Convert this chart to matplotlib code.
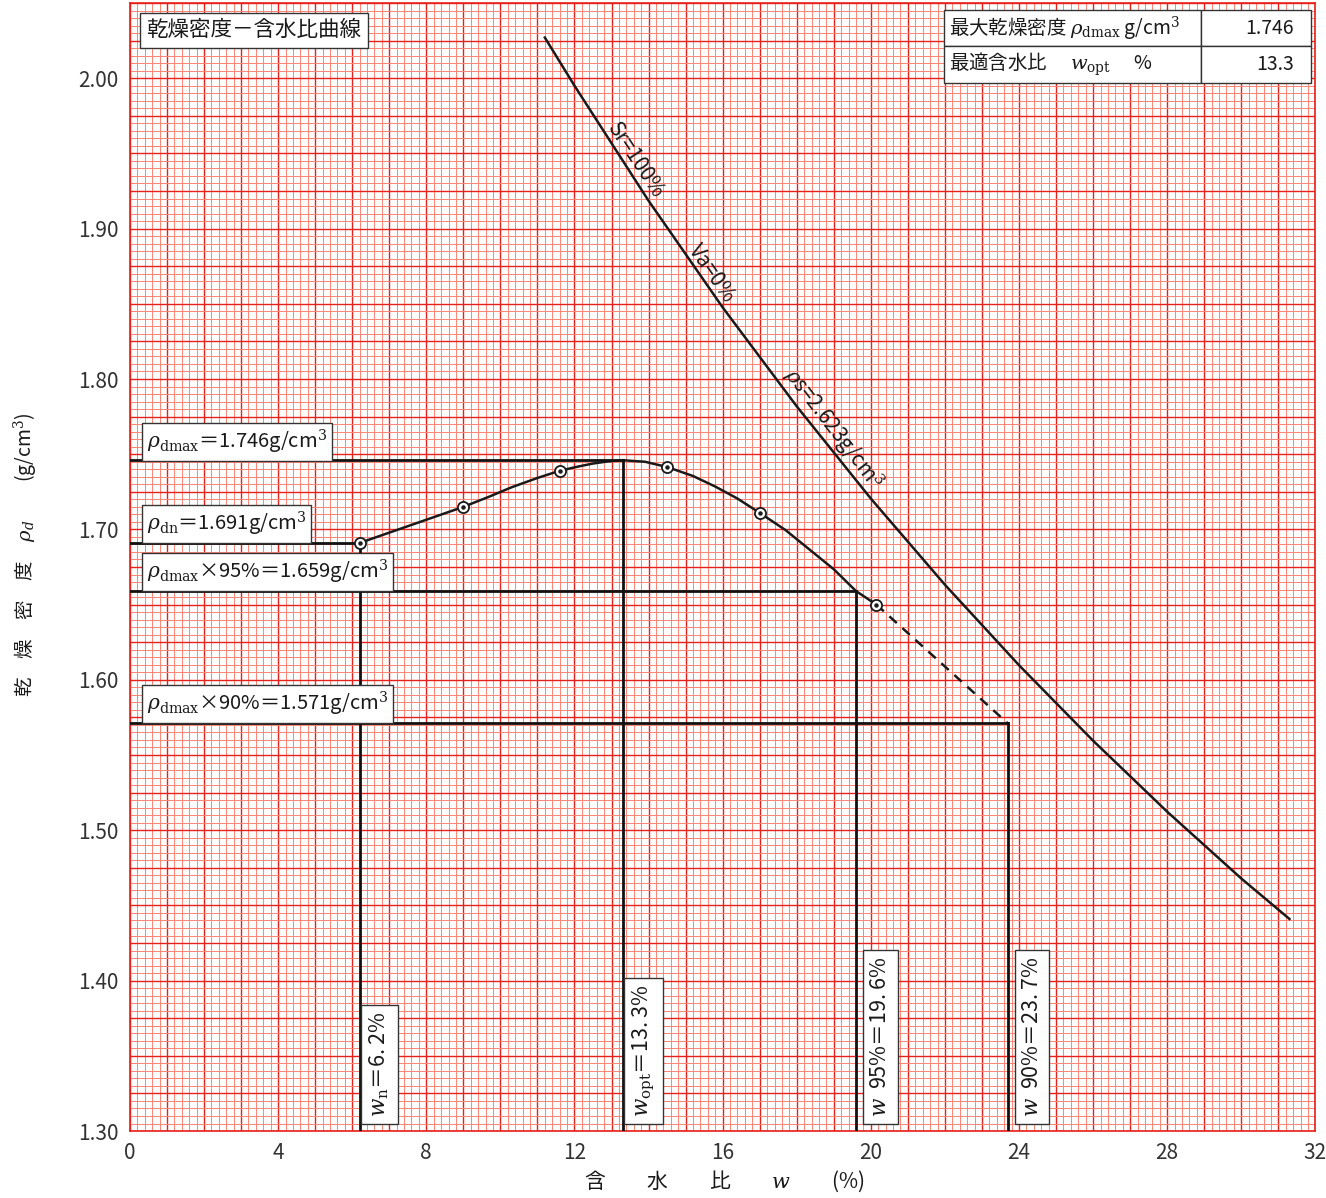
import matplotlib
matplotlib.use('Agg')
import matplotlib.pyplot as plt
import numpy as np

plt.rcParams['font.family'] = ['Noto Sans CJK JP', 'DejaVu Sans']
plt.rcParams['mathtext.fontset'] = 'dejavuserif'

# 試験結果 (含水比 w %, 乾燥密度 g/cm3)
w_test = [6.2, 9.0, 11.6, 14.5, 17.0, 20.15]
rho_test = [1.691, 1.715, 1.739, 1.7415, 1.711, 1.650]

# 曲線
w_curve = [6.2, 9.0, 9.7, 10.3, 11.0, 11.6, 12.1, 12.5, 12.9, 13.3, 13.9, 14.5,
           15.2, 15.8, 16.4, 17.0, 17.7, 18.3, 19.0, 19.6, 20.15]
rho_curve = [1.691, 1.715, 1.7218, 1.728, 1.7342, 1.739, 1.7418, 1.7438, 1.7452, 1.746, 1.745, 1.7415,
             1.7355, 1.7285, 1.7205, 1.711, 1.6995, 1.6875, 1.6735, 1.659, 1.650]
w_dash = [20.15, 23.7]
rho_dash = [1.650, 1.571]

# ゼロ空気間隙曲線 (ρs = 2.623)
w_zav = [11.2, 12, 14, 16, 18, 20, 22, 24, 26, 28, 30, 31.3]
rho_zav = [2.027, 1.995, 1.9185, 1.8476, 1.7818, 1.7205, 1.6632, 1.6097, 1.5595, 1.5123, 1.4679, 1.441]

rho_dmax, w_opt = 1.746, 13.3
rho_dn, w_n = 1.691, 6.2
rho_95, w_95 = 1.659, 19.6
rho_90, w_90 = 1.571, 23.7

x_ticks = [0, 4, 8, 12, 16, 20, 24, 28, 32]
y_ticks = [1.30, 1.40, 1.50, 1.60, 1.70, 1.80, 1.90, 2.00]

fig = plt.figure(figsize=(13.26, 11.98), dpi=100)
ax = fig.add_axes([0.098, 0.0559, 0.894, 0.9416])
ax.set_xlim(0, 32)
ax.set_ylim(1.30, 2.05)

# 方眼紙
for i, x in enumerate(np.arange(0, 32.001, 0.2)):
    if i % 5 == 0:
        ax.axvline(x, color='#e8201a', lw=1.0, zorder=0)
    else:
        ax.axvline(x, color='#ff8474', lw=0.7, zorder=0)
for i, y in enumerate(np.arange(1.30, 2.0501, 0.005)):
    if i % 5 == 0:
        ax.axhline(y, color='#e8201a', lw=1.0, zorder=0)
    else:
        ax.axhline(y, color='#ff8474', lw=0.7, zorder=0)

for s in ax.spines.values():
    s.set_color('#e8201a')
    s.set_linewidth(1.2)

ax.set_xticks(x_ticks)
ax.set_xticklabels([str(v) for v in x_ticks], fontsize=15, color='#333333')
ax.set_yticks(y_ticks)
ax.set_yticklabels([f'{v:.2f}' for v in y_ticks], fontsize=15, color='#333333')
ax.tick_params(length=0, pad=8)

# ゼロ空気間隙曲線
ax.plot(w_zav, rho_zav, color='#1a1a1a', lw=1.8, zorder=3)
ax.text(13.4, 1.941, 'Sr=100%', rotation=-56.5, rotation_mode='anchor',
        ha='center', va='bottom', fontsize=15, color='#1a1a1a', zorder=4)
ax.text(15.46, 1.866, 'Va=0%', rotation=-55, rotation_mode='anchor',
        ha='center', va='bottom', fontsize=15, color='#1a1a1a', zorder=4)
ax.text(18.67, 1.761, r'$\rho$s=2.623g/cm$^3$', rotation=-52.5, rotation_mode='anchor',
        ha='center', va='bottom', fontsize=15, color='#1a1a1a', zorder=4)

# 締固め曲線
ax.plot(w_curve, rho_curve, color='#1a1a1a', lw=1.8, zorder=3)
ax.plot(w_dash, rho_dash, color='#1a1a1a', lw=1.8, ls=(0, (4, 3)), zorder=3)
ax.plot(w_test, rho_test, 'o', ms=8, mfc='white', mec='#1a1a1a', mew=1.3, zorder=5)
ax.plot(w_test, rho_test, 'o', ms=2.2, color='#1a1a1a', zorder=6)

# 補助線
for w_v, r_v in [(w_opt, rho_dmax), (w_n, rho_dn), (w_95, rho_95), (w_90, rho_90)]:
    ax.plot([0, w_v], [r_v, r_v], color='#111111', lw=2, zorder=3)
    ax.plot([w_v, w_v], [r_v, 1.30], color='#111111', lw=2, zorder=3)

box = dict(boxstyle='square,pad=0.25', fc='white', ec='#333333', lw=1)
h_labels = [
    (1.758, r'$\rho_{\rm dmax}$＝1.746g/cm$^3$'),
    (1.7036, r'$\rho_{\rm dn}$＝1.691g/cm$^3$'),
    (1.6717, r'$\rho_{\rm dmax}$×95%＝1.659g/cm$^3$'),
    (1.584, r'$\rho_{\rm dmax}$×90%＝1.571g/cm$^3$'),
]
for y, s in h_labels:
    ax.text(0.45, y, s, ha='left', va='center', fontsize=14.5, color='#1a1a1a',
            bbox=box, zorder=7)

v_labels = [
    (6.73, r'$w_{\rm n}$＝6. 2%'),
    (13.87, r'$w_{\rm opt}$＝13. 3%'),
    (20.26, r'$w$  95%＝19. 6%'),
    (24.35, r'$w$  90%＝23. 7%'),
]
for x, s in v_labels:
    ax.text(x, 1.309, s, rotation=90, ha='center', va='bottom', fontsize=15.5,
            color='#1a1a1a', bbox=dict(boxstyle='square,pad=0.3', fc='white', ec='#333333', lw=1),
            zorder=7)

ax.text(0.45, 2.032, '乾燥密度－含水比曲線', ha='left', va='center', fontsize=15.5,
        color='#1a1a1a', bbox=dict(boxstyle='square,pad=0.3', fc='white', ec='#333333', lw=1), zorder=7)

# 結果表
tbl = ax.table(cellText=[[r'最大乾燥密度 $\rho_{\rm dmax}$ g/cm$^3$', '1.746'],
                         [r'最適含水比　 $w_{\rm opt}$　 %', '13.3']],
               colWidths=[0.70, 0.30], bbox=[0.687, 0.929, 0.309, 0.065], zorder=8)
tbl.auto_set_font_size(False)
for (r, c), cell in tbl.get_celld().items():
    cell.set_facecolor('white')
    cell.set_edgecolor('#333333')
    cell.set_linewidth(1)
    cell.get_text().set_fontsize(14)
    cell.get_text().set_color('#1a1a1a')
    if c == 0:
        cell.get_text().set_ha('left')
        cell.PAD = 0.02
    else:
        cell.get_text().set_ha('right')
        cell.PAD = 0.15

fig.text(0.546, 1 - 1181 / 1198, '含　　水　　比　　$w$　　(%)', ha='center', va='center',
         fontsize=15, color='#1a1a1a')
fig.text(25 / 1326, 0.537, r'乾　燥　密　度　$\rho_d$　　(g/cm$^3$)', rotation=90,
         ha='center', va='center', fontsize=14, color='#1a1a1a')

fig.savefig('out.png', dpi=100)
